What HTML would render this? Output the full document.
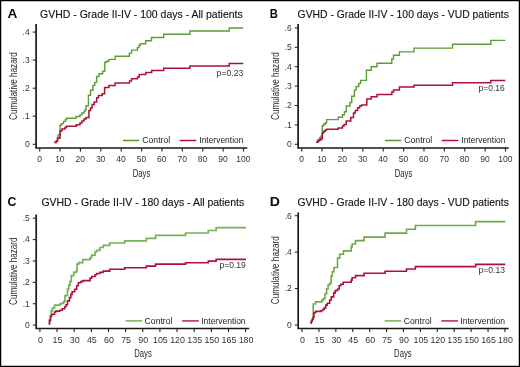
<!DOCTYPE html>
<html><head><meta charset="utf-8"><style>
html,body{margin:0;padding:0;background:#fff;}
svg{display:block;will-change:transform;}
text{font-family:"Liberation Sans", sans-serif;}
</style></head><body>
<svg width="520" height="367" viewBox="0 0 520 367">
<rect x="0" y="0" width="520" height="367" fill="#fff"/>
<text x="7.50" y="17.90" font-size="12.8" font-weight="bold" fill="#0a0a0a" textLength="9.9" lengthAdjust="spacingAndGlyphs">A</text>
<text x="40.10" y="18.15" font-size="10.3" fill="#111" stroke="#111" stroke-width="0.12" textLength="202.6" lengthAdjust="spacingAndGlyphs">GVHD - Grade II-IV - 100 days - All patients</text>
<text transform="translate(17.20 119.90) rotate(-90)" font-size="11.2" fill="#2a2a2a" textLength="67.8" lengthAdjust="spacingAndGlyphs">Cumulative hazard</text>
<path d="M36.10 24.00 V148.00 H247.30" fill="none" stroke="#1a1a1a" stroke-width="1.7"/>
<path d="M32.70 144.30H36.10" stroke="#2a2a2a" stroke-width="1.1"/>
<text x="29.70" y="147.20" font-size="8.5" fill="#333" text-anchor="end">0</text>
<path d="M32.70 116.20H36.10" stroke="#2a2a2a" stroke-width="1.1"/>
<text x="29.70" y="119.10" font-size="8.5" fill="#333" text-anchor="end">.1</text>
<path d="M32.70 88.20H36.10" stroke="#2a2a2a" stroke-width="1.1"/>
<text x="29.70" y="91.10" font-size="8.5" fill="#333" text-anchor="end">.2</text>
<path d="M32.70 60.10H36.10" stroke="#2a2a2a" stroke-width="1.1"/>
<text x="29.70" y="63.00" font-size="8.5" fill="#333" text-anchor="end">.3</text>
<path d="M32.70 32.10H36.10" stroke="#2a2a2a" stroke-width="1.1"/>
<text x="29.70" y="35.00" font-size="8.5" fill="#333" text-anchor="end">.4</text>
<path d="M39.70 148.00V151.60" stroke="#2a2a2a" stroke-width="1.15"/>
<text x="39.50" y="162.10" font-size="8.50" fill="#333" text-anchor="middle">0</text>
<path d="M60.08 148.00V151.60" stroke="#2a2a2a" stroke-width="1.15"/>
<text x="59.88" y="162.10" font-size="8.50" fill="#333" text-anchor="middle">10</text>
<path d="M80.46 148.00V151.60" stroke="#2a2a2a" stroke-width="1.15"/>
<text x="80.26" y="162.10" font-size="8.50" fill="#333" text-anchor="middle">20</text>
<path d="M100.84 148.00V151.60" stroke="#2a2a2a" stroke-width="1.15"/>
<text x="100.64" y="162.10" font-size="8.50" fill="#333" text-anchor="middle">30</text>
<path d="M121.22 148.00V151.60" stroke="#2a2a2a" stroke-width="1.15"/>
<text x="121.02" y="162.10" font-size="8.50" fill="#333" text-anchor="middle">40</text>
<path d="M141.60 148.00V151.60" stroke="#2a2a2a" stroke-width="1.15"/>
<text x="141.40" y="162.10" font-size="8.50" fill="#333" text-anchor="middle">50</text>
<path d="M161.98 148.00V151.60" stroke="#2a2a2a" stroke-width="1.15"/>
<text x="161.78" y="162.10" font-size="8.50" fill="#333" text-anchor="middle">60</text>
<path d="M182.36 148.00V151.60" stroke="#2a2a2a" stroke-width="1.15"/>
<text x="182.16" y="162.10" font-size="8.50" fill="#333" text-anchor="middle">70</text>
<path d="M202.74 148.00V151.60" stroke="#2a2a2a" stroke-width="1.15"/>
<text x="202.54" y="162.10" font-size="8.50" fill="#333" text-anchor="middle">80</text>
<path d="M223.12 148.00V151.60" stroke="#2a2a2a" stroke-width="1.15"/>
<text x="222.92" y="162.10" font-size="8.50" fill="#333" text-anchor="middle">90</text>
<path d="M243.50 148.00V151.60" stroke="#2a2a2a" stroke-width="1.15"/>
<text x="243.30" y="162.10" font-size="8.50" fill="#333" text-anchor="middle">100</text>
<text x="132.80" y="176.50" font-size="10.6" fill="#1a1a1a" textLength="17.5" lengthAdjust="spacingAndGlyphs">Days</text>
<path d="M54.1 142.4H56.3 V141.1H57.5 V137.5H58.2 V135.0H60.0 V125.3H61.5 V123.6H63.5 V121.4H65.5 V119.8H66.5 V118.2H76.0 V116.5H80.0 V114.9H82.0 V113.0H84.0 V111.5H85.0 V110.0H86.0 V105.7H88.4 V95.2H90.5 V90.3H93.0 V85.4H94.8 V82.4H96.6 V76.5H98.9 V73.7H102.7 V71.2H104.8 V62.3H106.6 V61.3H108.9 V59.4H115.2 V56.2H129.4 V53.1H131.6 V50.1H137.4 V47.6H139.0 V45.5H140.3 V43.8H145.7 V40.8H151.5 V37.5H163.7 V34.3H189.9 V31.0H229.2 V28.0H243.3" fill="none" stroke="#5a9e36" stroke-width="1.40"/>
<path d="M54.1 142.4H56.3 V141.1H57.5 V138.3H60.0 V131.3H61.5 V130.2H62.0 V129.0H65.0 V127.4H66.5 V126.3H76.2 V124.7H80.0 V123.0H82.0 V121.0H84.0 V119.0H86.0 V117.6H88.9 V110.6H90.5 V108.1H92.1 V104.4H94.2 V102.0H96.7 V97.7H98.5 V95.6H102.2 V93.8H104.6 V87.4H108.9 V85.5H115.1 V83.1H129.5 V80.9H131.5 V78.7H137.5 V76.9H139.2 V74.5H145.7 V72.6H151.7 V70.6H163.7 V68.2H189.9 V65.9H229.2 V63.4H243.3" fill="none" stroke="#ad1039" stroke-width="1.50"/>
<path d="M123.6 140.50H138.6" stroke="#4f9a2e" stroke-width="1.50" stroke-linecap="round"/>
<text x="142.3" y="143.00" font-size="8.3" fill="#222" textLength="27.9" lengthAdjust="spacingAndGlyphs">Control</text>
<path d="M180.3 140.50H195.6" stroke="#b70c35" stroke-width="1.60" stroke-linecap="round"/>
<text x="199.3" y="143.00" font-size="8.3" fill="#222" textLength="44.1" lengthAdjust="spacingAndGlyphs">Intervention</text>
<text x="216.60" y="75.50" font-size="8.5" fill="#333" textLength="26.7" lengthAdjust="spacingAndGlyphs">p=0.23</text>
<text x="269.70" y="17.90" font-size="12.8" font-weight="bold" fill="#0a0a0a" textLength="8.1" lengthAdjust="spacingAndGlyphs">B</text>
<text x="297.60" y="18.15" font-size="10.3" fill="#111" stroke="#111" stroke-width="0.12" textLength="211.3" lengthAdjust="spacingAndGlyphs">GVHD - Grade II-IV - 100 days - VUD patients</text>
<text transform="translate(279.20 120.00) rotate(-90)" font-size="11.2" fill="#2a2a2a" textLength="67.9" lengthAdjust="spacingAndGlyphs">Cumulative hazard</text>
<path d="M298.10 24.10 V148.00 H508.70" fill="none" stroke="#1a1a1a" stroke-width="1.7"/>
<path d="M294.70 144.30H298.10" stroke="#2a2a2a" stroke-width="1.1"/>
<text x="291.70" y="147.20" font-size="8.5" fill="#333" text-anchor="end">0</text>
<path d="M294.70 124.90H298.10" stroke="#2a2a2a" stroke-width="1.1"/>
<text x="291.70" y="127.80" font-size="8.5" fill="#333" text-anchor="end">.1</text>
<path d="M294.70 105.50H298.10" stroke="#2a2a2a" stroke-width="1.1"/>
<text x="291.70" y="108.40" font-size="8.5" fill="#333" text-anchor="end">.2</text>
<path d="M294.70 86.10H298.10" stroke="#2a2a2a" stroke-width="1.1"/>
<text x="291.70" y="89.00" font-size="8.5" fill="#333" text-anchor="end">.3</text>
<path d="M294.70 66.70H298.10" stroke="#2a2a2a" stroke-width="1.1"/>
<text x="291.70" y="69.60" font-size="8.5" fill="#333" text-anchor="end">.4</text>
<path d="M294.70 47.30H298.10" stroke="#2a2a2a" stroke-width="1.1"/>
<text x="291.70" y="50.20" font-size="8.5" fill="#333" text-anchor="end">.5</text>
<path d="M294.70 27.90H298.10" stroke="#2a2a2a" stroke-width="1.1"/>
<text x="291.70" y="30.80" font-size="8.5" fill="#333" text-anchor="end">.6</text>
<path d="M301.70 148.00V151.60" stroke="#2a2a2a" stroke-width="1.15"/>
<text x="301.50" y="162.10" font-size="8.50" fill="#333" text-anchor="middle">0</text>
<path d="M322.08 148.00V151.60" stroke="#2a2a2a" stroke-width="1.15"/>
<text x="321.88" y="162.10" font-size="8.50" fill="#333" text-anchor="middle">10</text>
<path d="M342.46 148.00V151.60" stroke="#2a2a2a" stroke-width="1.15"/>
<text x="342.26" y="162.10" font-size="8.50" fill="#333" text-anchor="middle">20</text>
<path d="M362.84 148.00V151.60" stroke="#2a2a2a" stroke-width="1.15"/>
<text x="362.64" y="162.10" font-size="8.50" fill="#333" text-anchor="middle">30</text>
<path d="M383.22 148.00V151.60" stroke="#2a2a2a" stroke-width="1.15"/>
<text x="383.02" y="162.10" font-size="8.50" fill="#333" text-anchor="middle">40</text>
<path d="M403.60 148.00V151.60" stroke="#2a2a2a" stroke-width="1.15"/>
<text x="403.40" y="162.10" font-size="8.50" fill="#333" text-anchor="middle">50</text>
<path d="M423.98 148.00V151.60" stroke="#2a2a2a" stroke-width="1.15"/>
<text x="423.78" y="162.10" font-size="8.50" fill="#333" text-anchor="middle">60</text>
<path d="M444.36 148.00V151.60" stroke="#2a2a2a" stroke-width="1.15"/>
<text x="444.16" y="162.10" font-size="8.50" fill="#333" text-anchor="middle">70</text>
<path d="M464.74 148.00V151.60" stroke="#2a2a2a" stroke-width="1.15"/>
<text x="464.54" y="162.10" font-size="8.50" fill="#333" text-anchor="middle">80</text>
<path d="M485.12 148.00V151.60" stroke="#2a2a2a" stroke-width="1.15"/>
<text x="484.92" y="162.10" font-size="8.50" fill="#333" text-anchor="middle">90</text>
<path d="M505.50 148.00V151.60" stroke="#2a2a2a" stroke-width="1.15"/>
<text x="505.30" y="162.10" font-size="8.50" fill="#333" text-anchor="middle">100</text>
<text x="394.80" y="176.50" font-size="10.6" fill="#1a1a1a" textLength="17.5" lengthAdjust="spacingAndGlyphs">Days</text>
<path d="M316.1 142.3H318.0 V139.5H319.8 V137.4H321.0 V136.2H322.3 V125.8H323.7 V124.3H325.3 V122.7H326.6 V119.6H338.2 V117.2H342.5 V114.7H344.4 V111.7H346.2 V106.0H350.0 V102.5H351.7 V96.3H354.4 V90.1H356.2 V86.5H358.8 V83.4H360.6 V80.4H366.4 V70.3H371.2 V66.7H377.0 V63.3H391.8 V59.0H393.5 V55.3H399.4 V51.9H414.0 V48.1H452.5 V44.2H490.8 V40.4H505.3" fill="none" stroke="#5a9e36" stroke-width="1.40"/>
<path d="M316.1 142.3H317.6 V141.1H319.2 V139.9H321.0 V138.7H322.3 V132.9H323.7 V131.3H325.3 V130.1H326.6 V129.2H338.2 V128.0H342.5 V126.0H344.1 V124.5H346.2 V120.9H350.8 V117.5H353.5 V113.1H355.3 V110.4H357.6 V107.8H359.7 V106.0H361.5 V105.1H366.8 V98.9H371.2 V96.8H377.0 V94.4H391.8 V91.9H393.5 V90.0H399.4 V87.1H414.0 V85.2H452.5 V82.7H490.8 V80.4H505.3" fill="none" stroke="#ad1039" stroke-width="1.50"/>
<path d="M385.6 140.50H400.6" stroke="#4f9a2e" stroke-width="1.50" stroke-linecap="round"/>
<text x="404.3" y="143.00" font-size="8.3" fill="#222" textLength="27.9" lengthAdjust="spacingAndGlyphs">Control</text>
<path d="M442.3 140.50H457.6" stroke="#b70c35" stroke-width="1.60" stroke-linecap="round"/>
<text x="461.3" y="143.00" font-size="8.3" fill="#222" textLength="44.1" lengthAdjust="spacingAndGlyphs">Intervention</text>
<text x="478.60" y="90.80" font-size="8.5" fill="#333" textLength="26.2" lengthAdjust="spacingAndGlyphs">p=0.16</text>
<text x="7.50" y="206.00" font-size="12.8" font-weight="bold" fill="#0a0a0a" textLength="8.9" lengthAdjust="spacingAndGlyphs">C</text>
<text x="41.40" y="206.10" font-size="10.3" fill="#111" stroke="#111" stroke-width="0.12" textLength="202.8" lengthAdjust="spacingAndGlyphs">GVHD - Grade II-IV - 180 days - All patients</text>
<text transform="translate(17.20 304.90) rotate(-90)" font-size="11.2" fill="#2a2a2a" textLength="67.3" lengthAdjust="spacingAndGlyphs">Cumulative hazard</text>
<path d="M36.20 214.60 V328.50 H249.20" fill="none" stroke="#1a1a1a" stroke-width="1.7"/>
<path d="M32.80 325.10H36.20" stroke="#2a2a2a" stroke-width="1.1"/>
<text x="29.80" y="328.00" font-size="8.5" fill="#333" text-anchor="end">0</text>
<path d="M32.80 303.72H36.20" stroke="#2a2a2a" stroke-width="1.1"/>
<text x="29.80" y="306.62" font-size="8.5" fill="#333" text-anchor="end">.1</text>
<path d="M32.80 282.34H36.20" stroke="#2a2a2a" stroke-width="1.1"/>
<text x="29.80" y="285.24" font-size="8.5" fill="#333" text-anchor="end">.2</text>
<path d="M32.80 260.96H36.20" stroke="#2a2a2a" stroke-width="1.1"/>
<text x="29.80" y="263.86" font-size="8.5" fill="#333" text-anchor="end">.3</text>
<path d="M32.80 239.58H36.20" stroke="#2a2a2a" stroke-width="1.1"/>
<text x="29.80" y="242.48" font-size="8.5" fill="#333" text-anchor="end">.4</text>
<path d="M32.80 218.20H36.20" stroke="#2a2a2a" stroke-width="1.1"/>
<text x="29.80" y="221.10" font-size="8.5" fill="#333" text-anchor="end">.5</text>
<path d="M39.90 328.50V332.10" stroke="#2a2a2a" stroke-width="1.15"/>
<text x="40.40" y="342.70" font-size="8.90" fill="#333" text-anchor="middle">0</text>
<path d="M57.04 328.50V332.10" stroke="#2a2a2a" stroke-width="1.15"/>
<text x="57.54" y="342.70" font-size="8.90" fill="#333" text-anchor="middle">15</text>
<path d="M74.18 328.50V332.10" stroke="#2a2a2a" stroke-width="1.15"/>
<text x="74.68" y="342.70" font-size="8.90" fill="#333" text-anchor="middle">30</text>
<path d="M91.33 328.50V332.10" stroke="#2a2a2a" stroke-width="1.15"/>
<text x="91.83" y="342.70" font-size="8.90" fill="#333" text-anchor="middle">45</text>
<path d="M108.47 328.50V332.10" stroke="#2a2a2a" stroke-width="1.15"/>
<text x="108.97" y="342.70" font-size="8.90" fill="#333" text-anchor="middle">60</text>
<path d="M125.61 328.50V332.10" stroke="#2a2a2a" stroke-width="1.15"/>
<text x="126.11" y="342.70" font-size="8.90" fill="#333" text-anchor="middle">75</text>
<path d="M142.75 328.50V332.10" stroke="#2a2a2a" stroke-width="1.15"/>
<text x="143.25" y="342.70" font-size="8.90" fill="#333" text-anchor="middle">90</text>
<path d="M159.89 328.50V332.10" stroke="#2a2a2a" stroke-width="1.15"/>
<text x="160.39" y="342.70" font-size="8.90" fill="#333" text-anchor="middle">105</text>
<path d="M177.04 328.50V332.10" stroke="#2a2a2a" stroke-width="1.15"/>
<text x="177.54" y="342.70" font-size="8.90" fill="#333" text-anchor="middle">120</text>
<path d="M194.18 328.50V332.10" stroke="#2a2a2a" stroke-width="1.15"/>
<text x="194.68" y="342.70" font-size="8.90" fill="#333" text-anchor="middle">135</text>
<path d="M211.32 328.50V332.10" stroke="#2a2a2a" stroke-width="1.15"/>
<text x="211.82" y="342.70" font-size="8.90" fill="#333" text-anchor="middle">150</text>
<path d="M228.46 328.50V332.10" stroke="#2a2a2a" stroke-width="1.15"/>
<text x="228.96" y="342.70" font-size="8.90" fill="#333" text-anchor="middle">165</text>
<path d="M245.60 328.50V332.10" stroke="#2a2a2a" stroke-width="1.15"/>
<text x="246.10" y="342.70" font-size="8.90" fill="#333" text-anchor="middle">180</text>
<text x="134.30" y="356.70" font-size="10.6" fill="#1a1a1a" textLength="17.5" lengthAdjust="spacingAndGlyphs">Days</text>
<path d="M48.6 323.8H49.5 V321.0H50.5 V316.0H51.2 V310.7H52.5 V308.1H54.5 V305.1H59.7 V304.2H61.0 V303.3H63.6 V301.6H64.9 V295.7H67.5 V289.2H68.8 V285.2H70.1 V281.3H71.3 V275.7H73.7 V272.4H76.2 V270.8H77.0 V264.2H78.6 V262.6H82.7 V259.6H90.1 V257.7H91.7 V255.2H95.0 V252.0H96.6 V250.3H99.9 V247.5H103.1 V245.4H109.7 V243.0H124.7 V240.8H146.3 V238.3H155.6 V235.4H185.6 V233.0H208.3 V230.5H216.1 V227.6H246.0" fill="none" stroke="#74b356" stroke-width="1.70"/>
<path d="M48.6 323.8H49.5 V320.0H50.5 V316.0H51.8 V314.2H54.5 V312.0H55.8 V311.1H59.7 V310.3H62.3 V308.8H64.7 V306.8H66.0 V304.8H67.5 V300.9H69.5 V297.6H70.8 V294.4H72.1 V291.8H74.7 V289.2H76.7 V285.7H78.3 V282.8H80.6 V281.6H82.7 V280.6H90.1 V278.1H91.7 V276.5H95.0 V274.8H96.6 V273.5H99.9 V272.4H103.1 V271.1H109.7 V269.3H124.7 V267.7H146.3 V266.1H155.6 V264.1H185.6 V262.7H208.3 V261.1H216.1 V259.4H246.0" fill="none" stroke="#ad1039" stroke-width="1.60"/>
<path d="M126.3 320.90H141.4" stroke="#84c068" stroke-width="1.80" stroke-linecap="round"/>
<text x="144.6" y="323.90" font-size="8.3" fill="#222" textLength="27.9" lengthAdjust="spacingAndGlyphs">Control</text>
<path d="M182.8 320.90H198.1" stroke="#c2426a" stroke-width="1.90" stroke-linecap="round"/>
<text x="201.2" y="323.90" font-size="8.3" fill="#222" textLength="44.4" lengthAdjust="spacingAndGlyphs">Intervention</text>
<text x="219.40" y="267.80" font-size="8.5" fill="#333" textLength="26.4" lengthAdjust="spacingAndGlyphs">p=0.19</text>
<text x="269.70" y="205.90" font-size="12.8" font-weight="bold" fill="#0a0a0a" textLength="10.2" lengthAdjust="spacingAndGlyphs">D</text>
<text x="297.40" y="206.10" font-size="10.3" fill="#111" stroke="#111" stroke-width="0.12" textLength="211.5" lengthAdjust="spacingAndGlyphs">GVHD - Grade II-IV - 180 days - VUD patients</text>
<text transform="translate(279.20 304.20) rotate(-90)" font-size="11.2" fill="#2a2a2a" textLength="68.0" lengthAdjust="spacingAndGlyphs">Cumulative hazard</text>
<path d="M298.20 212.40 V328.50 H508.70" fill="none" stroke="#1a1a1a" stroke-width="1.7"/>
<path d="M294.80 325.00H298.20" stroke="#2a2a2a" stroke-width="1.1"/>
<text x="291.80" y="327.90" font-size="8.5" fill="#333" text-anchor="end">0</text>
<path d="M294.80 288.57H298.20" stroke="#2a2a2a" stroke-width="1.1"/>
<text x="291.80" y="291.47" font-size="8.5" fill="#333" text-anchor="end">.2</text>
<path d="M294.80 252.14H298.20" stroke="#2a2a2a" stroke-width="1.1"/>
<text x="291.80" y="255.04" font-size="8.5" fill="#333" text-anchor="end">.4</text>
<path d="M294.80 215.71H298.20" stroke="#2a2a2a" stroke-width="1.1"/>
<text x="291.80" y="218.61" font-size="8.5" fill="#333" text-anchor="end">.6</text>
<path d="M302.00 328.50V332.10" stroke="#2a2a2a" stroke-width="1.15"/>
<text x="302.50" y="342.70" font-size="8.90" fill="#333" text-anchor="middle">0</text>
<path d="M318.91 328.50V332.10" stroke="#2a2a2a" stroke-width="1.15"/>
<text x="319.41" y="342.70" font-size="8.90" fill="#333" text-anchor="middle">15</text>
<path d="M335.82 328.50V332.10" stroke="#2a2a2a" stroke-width="1.15"/>
<text x="336.32" y="342.70" font-size="8.90" fill="#333" text-anchor="middle">30</text>
<path d="M352.74 328.50V332.10" stroke="#2a2a2a" stroke-width="1.15"/>
<text x="353.24" y="342.70" font-size="8.90" fill="#333" text-anchor="middle">45</text>
<path d="M369.65 328.50V332.10" stroke="#2a2a2a" stroke-width="1.15"/>
<text x="370.15" y="342.70" font-size="8.90" fill="#333" text-anchor="middle">60</text>
<path d="M386.56 328.50V332.10" stroke="#2a2a2a" stroke-width="1.15"/>
<text x="387.06" y="342.70" font-size="8.90" fill="#333" text-anchor="middle">75</text>
<path d="M403.47 328.50V332.10" stroke="#2a2a2a" stroke-width="1.15"/>
<text x="403.97" y="342.70" font-size="8.90" fill="#333" text-anchor="middle">90</text>
<path d="M420.39 328.50V332.10" stroke="#2a2a2a" stroke-width="1.15"/>
<text x="420.89" y="342.70" font-size="8.90" fill="#333" text-anchor="middle">105</text>
<path d="M437.30 328.50V332.10" stroke="#2a2a2a" stroke-width="1.15"/>
<text x="437.80" y="342.70" font-size="8.90" fill="#333" text-anchor="middle">120</text>
<path d="M454.21 328.50V332.10" stroke="#2a2a2a" stroke-width="1.15"/>
<text x="454.71" y="342.70" font-size="8.90" fill="#333" text-anchor="middle">135</text>
<path d="M471.12 328.50V332.10" stroke="#2a2a2a" stroke-width="1.15"/>
<text x="471.62" y="342.70" font-size="8.90" fill="#333" text-anchor="middle">150</text>
<path d="M488.04 328.50V332.10" stroke="#2a2a2a" stroke-width="1.15"/>
<text x="488.54" y="342.70" font-size="8.90" fill="#333" text-anchor="middle">165</text>
<path d="M504.95 328.50V332.10" stroke="#2a2a2a" stroke-width="1.15"/>
<text x="505.45" y="342.70" font-size="8.90" fill="#333" text-anchor="middle">180</text>
<text x="394.10" y="356.70" font-size="10.6" fill="#1a1a1a" textLength="17.5" lengthAdjust="spacingAndGlyphs">Days</text>
<path d="M310.3 323.0H311.3 V321.3H312.3 V319.2H313.1 V317.0H313.2 V304.0H315.5 V301.9H321.8 V300.4H323.4 V298.5H325.0 V293.7H326.6 V288.7H328.1 V285.0H329.6 V283.5H331.1 V276.1H332.3 V271.8H334.0 V267.5H337.5 V258.1H339.7 V254.3H343.5 V250.9H351.2 V246.9H352.1 V244.0H355.5 V240.6H364.1 V237.1H385.1 V233.1H406.5 V229.3H415.4 V225.5H475.6 V221.6H505.3" fill="none" stroke="#6aab48" stroke-width="1.60"/>
<path d="M310.3 323.0H311.3 V321.3H312.3 V319.2H313.1 V317.4H313.9 V312.7H315.5 V311.4H321.0 V310.8H322.6 V309.5H324.2 V307.9H325.8 V305.1H327.3 V303.2H329.7 V300.0H331.3 V296.9H333.7 V292.9H335.2 V290.6H337.6 V289.0H339.2 V285.8H340.8 V284.2H343.2 V282.3H351.2 V280.1H352.1 V277.8H355.5 V275.6H364.1 V273.2H385.1 V271.3H406.5 V269.0H415.4 V266.6H475.6 V264.4H505.3" fill="none" stroke="#ad1039" stroke-width="1.60"/>
<path d="M385.4 320.90H400.6" stroke="#84c068" stroke-width="1.80" stroke-linecap="round"/>
<text x="403.8" y="323.90" font-size="8.3" fill="#222" textLength="27.8" lengthAdjust="spacingAndGlyphs">Control</text>
<path d="M442.0 320.90H457.3" stroke="#c2426a" stroke-width="1.90" stroke-linecap="round"/>
<text x="460.3" y="323.90" font-size="8.3" fill="#222" textLength="44.8" lengthAdjust="spacingAndGlyphs">Intervention</text>
<text x="478.50" y="273.00" font-size="8.5" fill="#333" textLength="26.6" lengthAdjust="spacingAndGlyphs">p=0.13</text>
<rect x="0.6" y="0.6" width="518.8" height="365.8" fill="none" stroke="#000" stroke-width="1.3"/>
</svg>
</body></html>
